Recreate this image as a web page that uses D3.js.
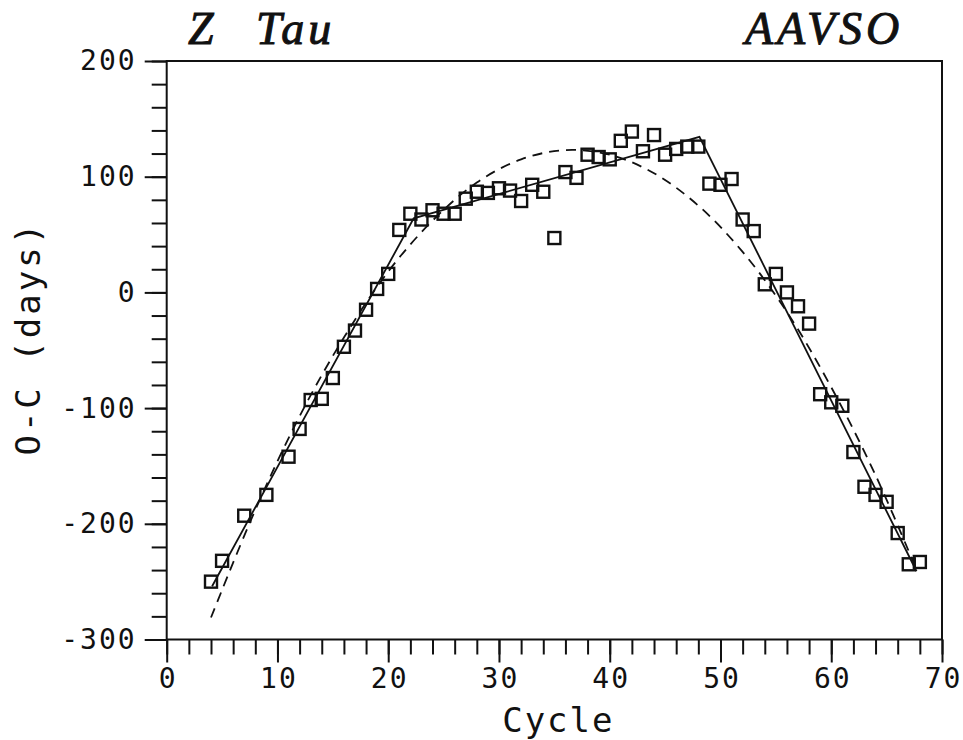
<!DOCTYPE html>
<html>
<head>
<meta charset="utf-8">
<script src="https://cdn.jsdelivr.net/npm/d3@7"></script>
<style>
  html, body { margin: 0; padding: 0; background: #fff; }
  svg { display: block; }
  .tick text { font-family: "DejaVu Sans Mono", monospace; font-size: 28px; letter-spacing: 2px; fill: #111; }
  .tick line { stroke: #111; stroke-width: 2; }
</style>
</head>
<body>
<svg id="chart" width="963" height="740"></svg>
<script>
// Z Tau (AAVSO) O-C timings per cycle
const cycles = [4, 5, 7, 9, 11, 12, 13, 14, 15, 16, 17, 18, 19, 20, 21, 22, 23, 24, 25, 26,
                27, 28, 29, 30, 31, 32, 33, 34, 35, 36, 37, 38, 39, 40, 41, 42, 43, 44, 45, 46,
                47, 48, 49, 50, 51, 52, 53, 54, 55, 56, 57, 58, 59, 60, 61, 62, 63, 64, 65, 66,
                67, 68];
const ocDays = [-250, -232, -193, -175, -142, -118, -93, -92, -74, -47, -33, -15, 3, 16, 54, 68, 63, 71, 68, 68,
                81, 87, 86, 90, 88, 79, 93, 87, 47, 104, 99, 119, 117, 115, 131, 139, 122, 136, 119, 124,
                126, 126, 94, 93, 98, 63, 53, 7, 16, 0, -12, -27, -88, -95, -98, -138, -168, -175, -181, -208,
                -235, -233];

// Broken-line fit (three linear segments)
const segCycle = [4.1, 22.3, 48.1, 67.7];
const segOC = [-254, 64, 134.5, -241];

// Smooth (dashed) fit curve
const curveCycle = [4, 8, 12, 16, 20, 24, 28, 32, 36, 40, 44, 48, 52, 56, 60, 64, 67.8];
const curveOC = [-281, -188, -107, -39, 18, 62, 95, 115, 123, 119, 103, 75, 35, -17, -82, -158, -242];

// Axis ticks
const xMajorTicks = [0, 10, 20, 30, 40, 50, 60, 70];
const xMinorTicks = d3.range(0, 71, 2);
const yMajorTicks = [-300, -200, -100, 0, 100, 200];
const yMinorTicks = d3.range(-300, 201, 20);

const svg = d3.select("#chart");
const ink = "#111";

const x = d3.scaleLinear().domain([0, 70]).range([166.7, 942]);
const y = d3.scaleLinear().domain([-300, 200]).range([639.5, 61]);

// minor ticks
svg.append("g")
  .attr("transform", `translate(0,${y(-300)})`)
  .call(d3.axisBottom(x).tickValues(xMinorTicks).tickSize(15).tickSizeOuter(0).tickFormat(""))
  .call(g => g.select(".domain").remove());
svg.append("g")
  .attr("transform", `translate(${x(0)},0)`)
  .call(d3.axisLeft(y).tickValues(yMinorTicks).tickSize(15).tickSizeOuter(0).tickFormat(""))
  .call(g => g.select(".domain").remove());

// major ticks with labels
svg.append("g")
  .attr("transform", `translate(0,${y(-300)})`)
  .call(d3.axisBottom(x).tickValues(xMajorTicks).tickSize(23).tickPadding(6).tickSizeOuter(0).tickFormat(d => String(d)))
  .call(g => g.select(".domain").remove())
  .call(g => g.selectAll("text").attr("dx", "1px"));
svg.append("g")
  .attr("transform", `translate(${x(0)},0)`)
  .call(d3.axisLeft(y).tickValues(yMajorTicks).tickSize(22).tickPadding(8).tickSizeOuter(0).tickFormat(d => String(d)))
  .call(g => g.select(".domain").remove());

// plot frame
svg.append("rect")
  .attr("x", x(0)).attr("y", y(200))
  .attr("width", x(70) - x(0)).attr("height", y(-300) - y(200))
  .attr("fill", "none").attr("stroke", ink).attr("stroke-width", 2);

// dashed smooth fit
const curvePts = curveCycle.map((c, i) => [c, curveOC[i]]);
svg.append("path")
  .datum(curvePts)
  .attr("fill", "none").attr("stroke", ink).attr("stroke-width", 1.8)
  .attr("stroke-dasharray", "10,7")
  .attr("d", d3.line().x(d => x(d[0])).y(d => y(d[1])).curve(d3.curveCatmullRom));

// solid broken-line fit
const segPts = segCycle.map((c, i) => [c, segOC[i]]);
svg.append("path")
  .datum(segPts)
  .attr("fill", "none").attr("stroke", ink).attr("stroke-width", 1.8)
  .attr("d", d3.line().x(d => x(d[0])).y(d => y(d[1])));

// observed points as open squares
const s = 12;
svg.append("g").selectAll("rect")
  .data(cycles.map((c, i) => [c, ocDays[i]]))
  .join("rect")
  .attr("x", d => x(d[0]) - s / 2)
  .attr("y", d => y(d[1]) - s / 2)
  .attr("width", s).attr("height", s)
  .attr("fill", "none").attr("stroke", ink).attr("stroke-width", 2.4);

// axis titles
svg.append("text")
  .attr("x", (x(0) + x(70)) / 2 + 4).attr("y", 732)
  .attr("text-anchor", "middle")
  .style("font-family", "'DejaVu Sans Mono', monospace").style("font-size", "34px")
  .style("letter-spacing", "2px").attr("fill", ink)
  .text("Cycle");
svg.append("text")
  .attr("transform", `translate(40,${(y(200) + y(-300)) / 2 - 12}) rotate(-90)`)
  .attr("text-anchor", "middle")
  .style("font-family", "'DejaVu Sans Mono', monospace").style("font-size", "34px")
  .style("letter-spacing", "3px").attr("fill", ink)
  .text("O-C (days)");

// headings
const head = svg.append("text")
  .attr("y", 44)
  .style("font-family", "'Liberation Serif', serif").style("font-style", "italic")
  .style("font-size", "46px").style("letter-spacing", "4px")
  .attr("fill", ink).attr("stroke", ink).attr("stroke-width", 1);
head.append("tspan").attr("x", 188).text("Z");
head.append("tspan").attr("x", 256).text("Tau");
svg.append("text")
  .attr("x", 745).attr("y", 44)
  .style("font-family", "'Liberation Serif', serif").style("font-style", "italic")
  .style("font-size", "46px").style("letter-spacing", "4px")
  .attr("fill", ink).attr("stroke", ink).attr("stroke-width", 1)
  .text("AAVSO");
</script>
</body>
</html>
